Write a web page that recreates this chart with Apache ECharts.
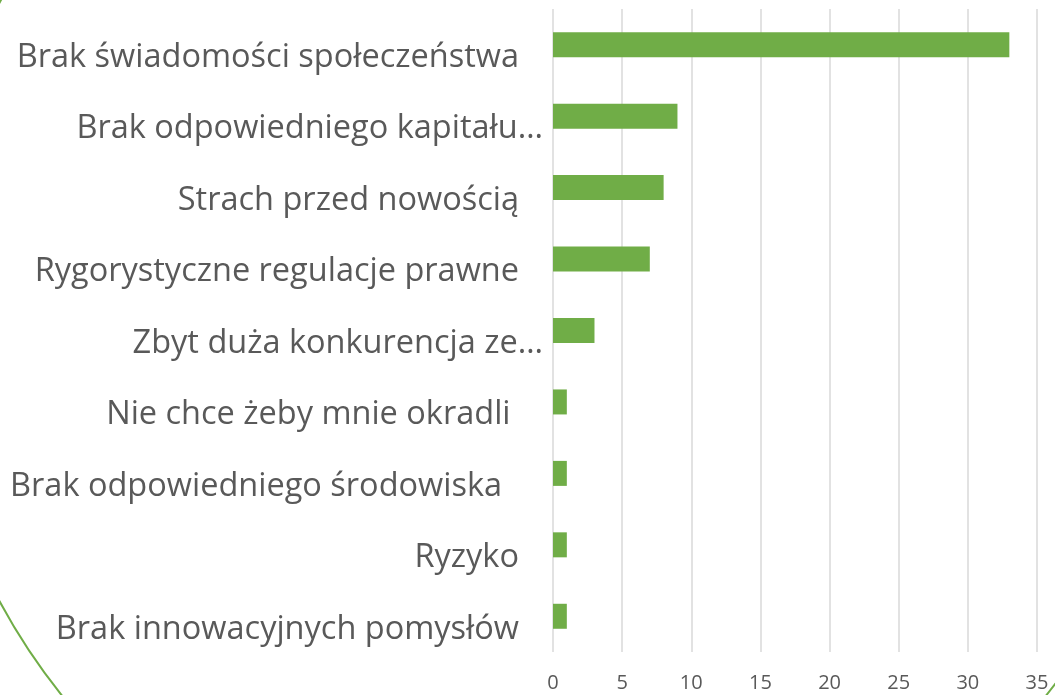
<!DOCTYPE html>
<html>
<head>
<meta charset="utf-8">
<script src="https://cdn.jsdelivr.net/npm/echarts@6/dist/echarts.min.js"></script>
<style>
  html, body { margin: 0; padding: 0; background: #fff; }
  #chart { width: 1055px; height: 695px; }
</style>
</head>
<body>
<div id="chart"></div>
<script>
// data (some labels keep a trailing space, as in the source)
const categories = [
    'Brak świadomości społeczeństwa',
    'Brak odpowiedniego kapitału…',
    'Strach przed nowością',
    'Rygorystyczne regulacje prawne',
    'Zbyt duża konkurencja ze…',
    'Nie chce żeby mnie okradli ',
    'Brak odpowiedniego środowiska  ',
    'Ryzyko',
    'Brak innowacyjnych pomysłów'
];
const values = [33, 9, 8, 7, 3, 1, 1, 1, 1];
const xTicks = { min: 0, max: 35, interval: 5 };

const green = '#70ad47';
const textColor = '#595959';
const fontFamily = '"Open Sans", sans-serif';

const chart = echarts.init(document.getElementById('chart'));

chart.setOption({
    backgroundColor: '#fff',
    animation: false,
    grid: { left: 553, right: 18, top: 9, bottom: 43 },
    xAxis: {
        type: 'value',
        min: xTicks.min,
        max: xTicks.max,
        interval: xTicks.interval,
        axisLine: { show: false },
        axisTick: { show: false },
        axisLabel: { color: textColor, fontSize: 20, fontFamily, margin: 21 },
        splitLine: { lineStyle: { color: '#d9d9d9', width: 1.5 } }
    },
    yAxis: {
        type: 'category',
        inverse: true,
        data: categories,
        axisLine: { show: false },
        axisTick: { show: false },
        axisLabel: {
            margin: 10,
            formatter: (v) => v.endsWith('…') ? '{cut|' + v + '}' : '{full|' + v + '}',
            rich: {
                full: { color: textColor, fontSize: 32.5, fontFamily, padding: [26, 24, 0, 0] },
                cut: { color: textColor, fontSize: 32.5, fontFamily, padding: [26, 0, 0, 0] }
            }
        }
    },
    series: [{
        type: 'bar',
        data: values,
        barWidth: 25,
        itemStyle: { color: green }
    }],
    graphic: [{
        type: 'circle',
        shape: { cx: 554, cy: 302, r: 630 },
        style: { fill: 'none', stroke: green, lineWidth: 2 },
        silent: true
    }]
});
</script>
</body>
</html>
